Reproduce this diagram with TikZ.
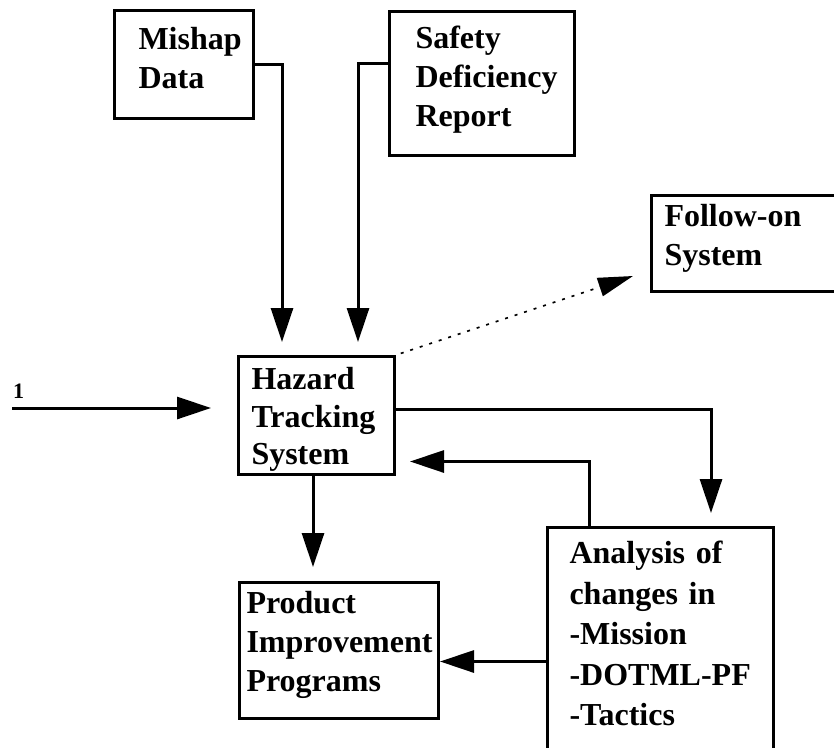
\documentclass[tikz,border=0pt]{standalone}
\usepackage{fontspec}
\setmainfont{Liberation Serif}
\usetikzlibrary{arrows.meta, positioning}
\hyphenpenalty=10000

\begin{document}
\begin{tikzpicture}[x=1pt, y=-1pt,
        infobox/.style = {draw=black, line width=3pt, anchor=north west, align=left, inner ysep=0pt, font=\fontsize{32}{39}\selectfont\bfseries},
        flow/.style = {line width=3pt, -{Triangle[length=34pt, width=22pt]}},
        hint/.style = {line width=1.7pt, dash pattern=on 3pt off 7pt, -{Triangle[length=35pt, width=19pt]}}
    ]
    \useasboundingbox (0,0) rectangle (834,747);

    % boxes
    \node [infobox, text width=91pt, inner xsep=24pt, text height=39pt, text depth=69pt] (mishap) at (113,9) {Mishap\\Data};
    \node [infobox, text width=133pt, inner xsep=26pt, text height=37pt, text depth=107pt] (safety) at (388,10) {Safety\\Deficiency\\Report};
    \node [infobox, text width=174pt, inner xsep=13pt, text height=31pt, text depth=65pt] (follow) at (650,194) {Follow-on\\System};
    \node [infobox, text width=130pt, inner xsep=13pt, text height=33pt, text depth=85pt, font=\fontsize{32}{37.5}\selectfont\bfseries] (hazard) at (237,355) {Hazard\\Tracking\\System};
    \node [infobox, text width=185pt, inner xsep=7pt, text height=31pt, text depth=105pt] (product) at (238,581) {Product\\Improvement\\Programs};
    \node [infobox, text width=182pt, inner xsep=22pt, text height=36pt, text depth=204pt, font=\fontsize{32}{40.5}\selectfont\bfseries] (analysis) at (546,526) {Analysis of\\changes in\\-Mission\\-DOTML-PF\\-Tactics};

    % input
    \coordinate (src) at (12,408);
    \node [anchor=base west, inner sep=0pt, font=\fontsize{22}{22}\selectfont\bfseries] (one) at (13,398) {1};
    \draw [flow, shorten >=26pt] (src) -- (src -| hazard.west);

    % connectors
    \draw [flow, shorten >=13pt] (mishap.east) -| ([xshift=45pt]hazard.north west);
    \draw [flow, shorten >=13pt] ([yshift=20pt]safety.west) -| ([xshift=121pt]hazard.north west);
    \coordinate (fotip) at ([shift={(-17pt,17pt)}]follow.south west);
    \draw [hint, shorten <=5pt] (hazard.north east) -- (fotip);
    \draw [flow, shorten >=13pt] ([yshift=6pt]hazard.east) -| ([xshift=165pt]analysis.north west);
    \draw [flow, shorten >=14pt] ([xshift=43pt]analysis.north west) |- ([yshift=-46pt]hazard.east);
    \draw [flow, shorten >=14pt] ([xshift=76pt]hazard.south west) -- ([xshift=75pt]product.north west);
    \draw [flow] ([yshift=-14pt]analysis.west) -- ([yshift=-11pt]product.east);
\end{tikzpicture}
\end{document}
